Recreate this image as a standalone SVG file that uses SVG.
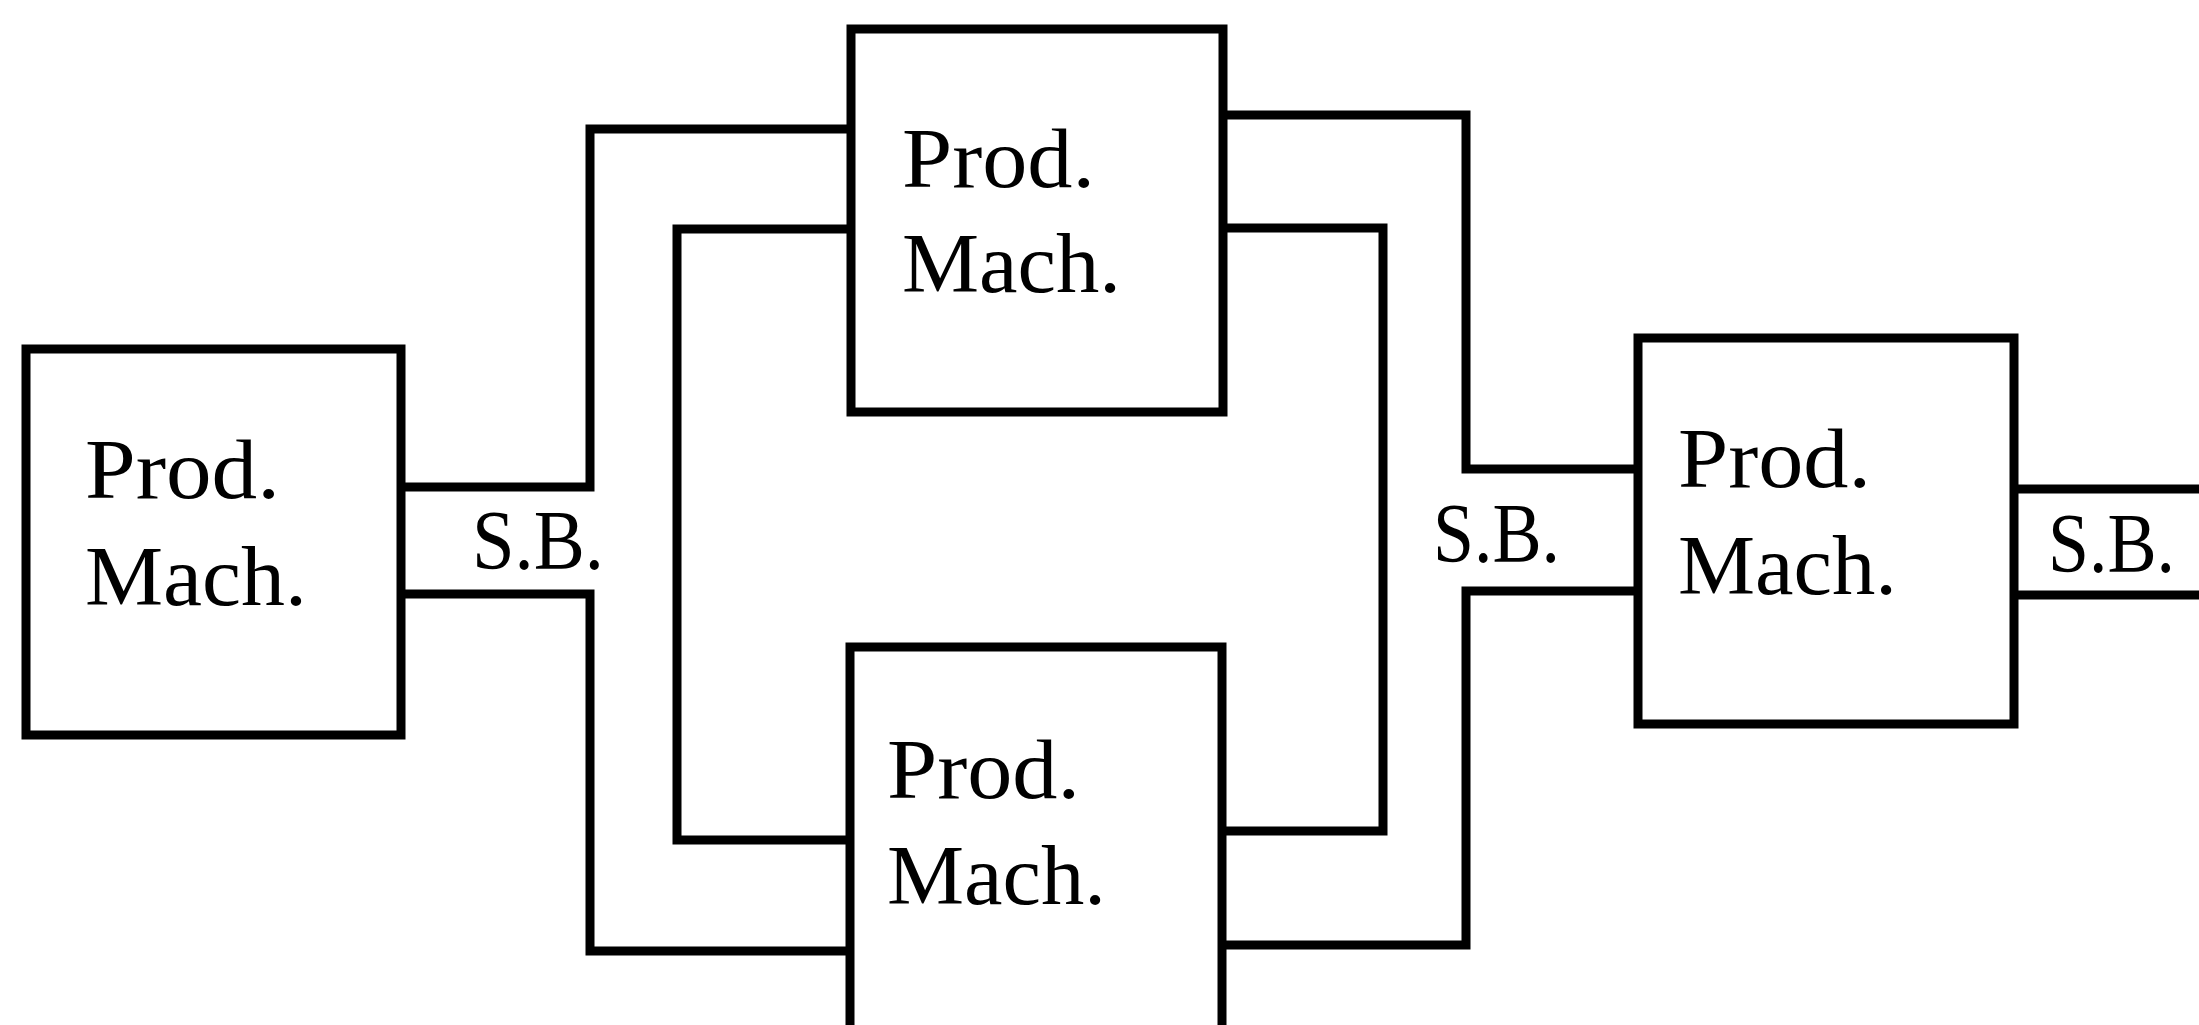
<svg xmlns="http://www.w3.org/2000/svg" width="2199" height="1025" viewBox="0 0 2199 1025">
<style>
.box{fill:#fff;stroke:#000;stroke-width:9;stroke-linejoin:miter}
.con{fill:none;stroke:#000;stroke-width:9;stroke-linejoin:miter;stroke-linecap:square}
text{font-family:"Liberation Serif","Times New Roman",serif;font-size:85px;fill:#000}
</style>
<rect width="2199" height="1025" fill="#fff"/>
<g id="connectors">
<polyline class="con" points="401,487 590,487 590,129 851,129"/>
<polyline class="con" points="401,594 590,594 590,951 850,951"/>
<polyline class="con" points="851,229 677,229 677,840 850,840"/>
<polyline class="con" points="1223,228 1383,228 1383,831 1222,831"/>
<polyline class="con" points="1223,115 1466,115 1466,469 1638,469"/>
<polyline class="con" points="1222,945 1466,945 1466,591 1638,591"/>
<polyline class="con" points="2014,489 2205,489"/>
<polyline class="con" points="2014,595 2205,595"/>
</g>
<g id="sb1"><text x="472" y="569" textLength="132" lengthAdjust="spacingAndGlyphs">S.B.</text></g>
<g id="sb2"><text x="1433" y="562" textLength="127" lengthAdjust="spacingAndGlyphs">S.B.</text></g>
<g id="sb3"><text x="2048" y="572" textLength="127" lengthAdjust="spacingAndGlyphs">S.B.</text></g>
<g id="m1">
<rect class="box" x="26" y="349" width="375" height="386"/>
<text x="85" y="498" textLength="195" lengthAdjust="spacingAndGlyphs">Prod.</text>
<text x="85" y="605" textLength="222" lengthAdjust="spacingAndGlyphs">Mach.</text>
</g>
<g id="m2">
<rect class="box" x="851" y="29" width="372" height="383"/>
<text x="902" y="187" textLength="193" lengthAdjust="spacingAndGlyphs">Prod.</text>
<text x="902" y="292" textLength="219" lengthAdjust="spacingAndGlyphs">Mach.</text>
</g>
<g id="m3">
<rect class="box" x="850" y="647" width="372" height="400"/>
<text x="887" y="798" textLength="193" lengthAdjust="spacingAndGlyphs">Prod.</text>
<text x="887" y="904" textLength="219" lengthAdjust="spacingAndGlyphs">Mach.</text>
</g>
<g id="m4">
<rect class="box" x="1638" y="338" width="376" height="386"/>
<text x="1678" y="487" textLength="193" lengthAdjust="spacingAndGlyphs">Prod.</text>
<text x="1678" y="594" textLength="219" lengthAdjust="spacingAndGlyphs">Mach.</text>
</g>
</svg>
